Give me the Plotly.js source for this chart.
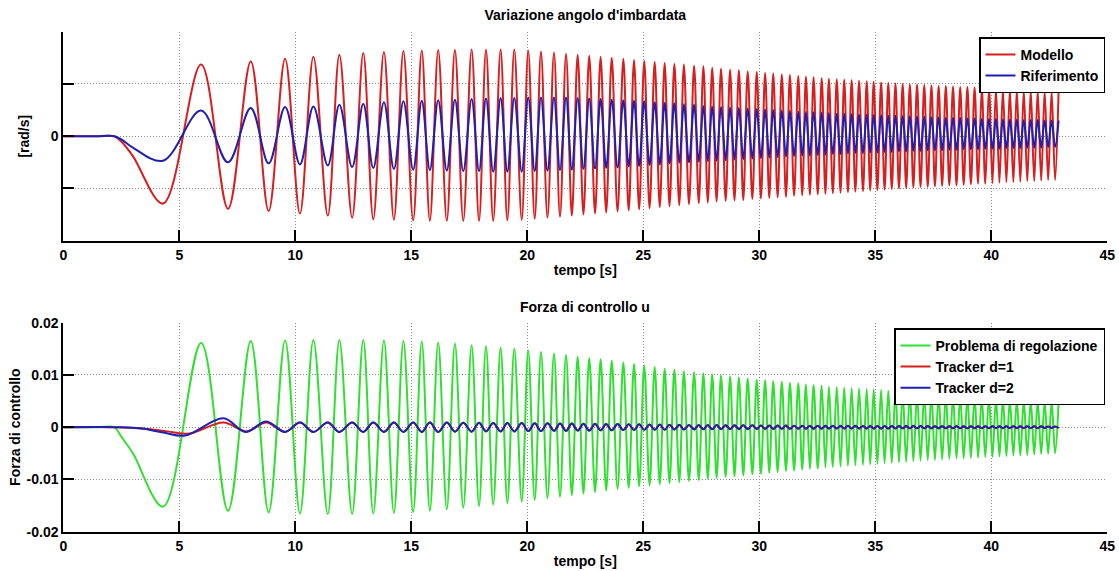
<!DOCTYPE html>
<html>
<head>
<meta charset="utf-8">
<script src="https://cdn.plot.ly/plotly-3.0.1.min.js"></script>
<style>html,body{margin:0;padding:0;background:#fff;}#chart{width:1119px;height:571px;}</style>
</head>
<body>
<div id="chart"></div>
<script>
// ---- Extremum times (s), shared by the oscillating series ----
const troughT = [
  4.3, 7.1, 8.85, 10.2, 11.4, 12.45, 13.36, 14.25, 15.08, 15.8,
  16.53, 17.24, 17.92, 18.53, 19.14, 19.76, 20.32, 20.87, 21.41, 21.92,
  22.42, 22.92, 23.4, 23.89, 24.37, 24.82, 25.27, 25.71, 26.13, 26.55,
  26.97, 27.39, 27.78, 28.16, 28.55, 28.93, 29.31, 29.7, 30.07, 30.43,
  30.79, 31.15, 31.5, 31.85, 32.18, 32.52, 32.85, 33.17, 33.5, 33.82,
  34.14, 34.47, 34.78, 35.09, 35.4, 35.71, 36.02, 36.33, 36.64, 36.95,
  37.26, 37.57, 37.88, 38.19, 38.5, 38.81, 39.12, 39.43, 39.74, 40.05,
  40.35, 40.65, 40.95, 41.25, 41.55, 41.85, 42.15, 42.45, 42.75
];
const peakT = [
  5.94, 8.08, 9.56, 10.78, 11.9, 12.93, 13.82, 14.66, 15.45, 16.16,
  16.88, 17.6, 18.22, 18.85, 19.44, 20.04, 20.59, 21.15, 21.67, 22.17,
  22.67, 23.16, 23.64, 24.14, 24.6, 25.04, 25.49, 25.92, 26.34, 26.75,
  27.19, 27.59, 27.97, 28.35, 28.74, 29.12, 29.5, 29.89, 30.25, 30.6,
  30.97, 31.32, 31.68, 32.01, 32.34, 32.69, 33.0, 33.34, 33.66, 33.98,
  34.3, 34.63, 34.93, 35.25, 35.56, 35.87, 36.18, 36.49, 36.8, 37.11,
  37.42, 37.73, 38.04, 38.35, 38.66, 38.97, 39.28, 39.59, 39.9, 40.2,
  40.5, 40.8, 41.1, 41.4, 41.7, 42.0, 42.3, 42.6, 42.9
];

// ---- Top panel: yaw rate (tick step = 1 unit) ----
const startT = [0, 1.5, 2.2, 2.5, 3.0];
const modelloStart = [0, 0, 0, -0.1, -0.38];
const riferimentoStart = [0, 0, 0, -0.06, -0.22];
const modelloPeaks = [
  1.37, 1.43, 1.48, 1.52, 1.56, 1.59, 1.61, 1.63, 1.64, 1.65,
  1.65, 1.66, 1.66, 1.66, 1.66, 1.64, 1.62, 1.6, 1.58, 1.56,
  1.54, 1.52, 1.5, 1.48, 1.46, 1.44, 1.42, 1.4, 1.38, 1.37,
  1.35, 1.34, 1.31, 1.29, 1.27, 1.26, 1.24, 1.23, 1.21, 1.2,
  1.18, 1.17, 1.15, 1.14, 1.13, 1.11, 1.1, 1.09, 1.08, 1.07,
  1.06, 1.05, 1.04, 1.03, 1.02, 1.01, 1.0, 0.99, 0.99, 0.98,
  0.97, 0.96, 0.96, 0.95, 0.94, 0.94, 0.93, 0.92, 0.92, 0.91,
  0.9, 0.9, 0.89, 0.88, 0.88, 0.87, 0.87, 0.86, 0.86
];
const modelloTroughs = [
  -1.29, -1.39, -1.43, -1.48, -1.52, -1.56, -1.59, -1.6, -1.61, -1.62,
  -1.62, -1.62, -1.62, -1.62, -1.61, -1.6, -1.58, -1.56, -1.54, -1.52,
  -1.5, -1.48, -1.46, -1.44, -1.42, -1.4, -1.38, -1.36, -1.34, -1.32,
  -1.3, -1.28, -1.27, -1.25, -1.24, -1.23, -1.22, -1.2, -1.19, -1.18,
  -1.17, -1.16, -1.14, -1.13, -1.12, -1.11, -1.1, -1.09, -1.08, -1.07,
  -1.06, -1.05, -1.04, -1.03, -1.02, -1.01, -1.0, -0.99, -0.98, -0.97,
  -0.97, -0.96, -0.95, -0.94, -0.94, -0.93, -0.92, -0.91, -0.91, -0.9,
  -0.89, -0.88, -0.88, -0.87, -0.86, -0.86, -0.85, -0.84, -0.84
];
const riferimentoPeaks = [
  0.49, 0.54, 0.56, 0.57, 0.6, 0.62, 0.65, 0.67, 0.68, 0.69,
  0.7, 0.71, 0.72, 0.73, 0.73, 0.74, 0.74, 0.74, 0.74, 0.73,
  0.72, 0.71, 0.7, 0.69, 0.68, 0.67, 0.65, 0.64, 0.63, 0.61,
  0.6, 0.58, 0.57, 0.56, 0.55, 0.54, 0.53, 0.52, 0.51, 0.5,
  0.49, 0.48, 0.47, 0.46, 0.46, 0.45, 0.44, 0.43, 0.43, 0.42,
  0.41, 0.41, 0.4, 0.4, 0.39, 0.39, 0.38, 0.38, 0.37, 0.37,
  0.36, 0.36, 0.35, 0.35, 0.35, 0.34, 0.34, 0.33, 0.33, 0.33,
  0.32, 0.32, 0.32, 0.31, 0.31, 0.31, 0.3, 0.3, 0.3
];
const riferimentoTroughs = [
  -0.47, -0.5, -0.52, -0.54, -0.56, -0.59, -0.61, -0.63, -0.64, -0.65,
  -0.66, -0.67, -0.67, -0.68, -0.68, -0.68, -0.67, -0.66, -0.65, -0.64,
  -0.63, -0.62, -0.61, -0.6, -0.58, -0.57, -0.55, -0.54, -0.52, -0.51,
  -0.5, -0.49, -0.48, -0.47, -0.46, -0.45, -0.44, -0.43, -0.42, -0.41,
  -0.4, -0.39, -0.38, -0.37, -0.37, -0.36, -0.35, -0.34, -0.34, -0.33,
  -0.32, -0.32, -0.31, -0.31, -0.3, -0.3, -0.29, -0.29, -0.28, -0.28,
  -0.27, -0.27, -0.27, -0.26, -0.26, -0.25, -0.25, -0.25, -0.24, -0.24,
  -0.24, -0.23, -0.23, -0.23, -0.22, -0.22, -0.22, -0.21, -0.21
];

// ---- Bottom panel: control force ----
const regolazioneStart = [0, 0, 0, -0.0018, -0.005];
const regolazionePeaks = [
  0.0161, 0.0165, 0.0166, 0.0167, 0.0167, 0.0167, 0.0166, 0.0165, 0.0164, 0.0162,
  0.016, 0.0157, 0.0155, 0.0152, 0.015, 0.0147, 0.0144, 0.0141, 0.0138, 0.0135,
  0.0132, 0.013, 0.0127, 0.0124, 0.0121, 0.0118, 0.0115, 0.0112, 0.011, 0.0107,
  0.0105, 0.0103, 0.0101, 0.0099, 0.0097, 0.0095, 0.0093, 0.0091, 0.009, 0.0088,
  0.0087, 0.0085, 0.0084, 0.0082, 0.0081, 0.008, 0.0078, 0.0077, 0.0076, 0.0075,
  0.0074, 0.0073, 0.0072, 0.0071, 0.007, 0.0069, 0.0068, 0.0067, 0.0066, 0.0065,
  0.0064, 0.0063, 0.0062, 0.0061, 0.006, 0.006, 0.0059, 0.0058, 0.0057, 0.0056,
  0.0055, 0.0054, 0.0053, 0.0052, 0.0051, 0.005, 0.0049, 0.0048, 0.0047
];
const regolazioneTroughs = [
  -0.0152, -0.016, -0.0163, -0.0165, -0.0166, -0.0166, -0.0165, -0.0164, -0.0162, -0.016,
  -0.0157, -0.0154, -0.0151, -0.0148, -0.0145, -0.0142, -0.0139, -0.0136, -0.0133, -0.013,
  -0.0127, -0.0124, -0.0121, -0.0118, -0.0116, -0.0113, -0.0111, -0.0109, -0.0107, -0.0105,
  -0.0103, -0.0101, -0.0099, -0.0097, -0.0095, -0.0094, -0.0092, -0.009, -0.0089, -0.0087,
  -0.0086, -0.0084, -0.0083, -0.0081, -0.008, -0.0079, -0.0077, -0.0076, -0.0075, -0.0074,
  -0.0073, -0.0072, -0.0071, -0.007, -0.0069, -0.0068, -0.0067, -0.0066, -0.0065, -0.0064,
  -0.0063, -0.0063, -0.0062, -0.0061, -0.006, -0.006, -0.0059, -0.0058, -0.0057, -0.0057,
  -0.0056, -0.0055, -0.0054, -0.0054, -0.0053, -0.0052, -0.0051, -0.0051, -0.005
];
// trackers: first transient points, then oscillation in antiphase from t = 9.56 s
const tracker1StartT = [0, 2.3, 3.5, 4.5, 5.45, 6.9, 7.9, 8.75];
const tracker1Start  = [0, 0, -0.0003, -0.0008, -0.0012, 0.0009, -0.0008, 0.0009];
const tracker2StartT = [0, 2.3, 3.3, 4.3, 5.25, 6.9, 7.85, 8.75];
const tracker2Start  = [0, 0, -0.0002, -0.001, -0.0016, 0.0017, -0.0009, 0.0011];
const trackerAmp = [
  0.0009, 0.0009, 0.0009, 0.0009, 0.0009, 0.0009, 0.0009, 0.0009, 0.00085, 0.00085,
  0.0008, 0.0008, 0.0008, 0.00075, 0.00075, 0.0007, 0.0007, 0.00065, 0.00065, 0.0006,
  0.0006, 0.00055, 0.00055, 0.0005, 0.0005, 0.00048, 0.00046, 0.00044, 0.00042, 0.0004,
  0.0004, 0.00038, 0.00037, 0.00036, 0.00035, 0.00034, 0.00033, 0.00032, 0.00031, 0.0003,
  0.00029, 0.00029, 0.00028, 0.00028, 0.00027, 0.00027, 0.00026, 0.00026, 0.00025, 0.00025,
  0.00024, 0.00024, 0.00023, 0.00023, 0.00022, 0.00022, 0.00021, 0.00021, 0.0002, 0.0002,
  0.0002, 0.00019, 0.00019, 0.00019, 0.00018, 0.00018, 0.00018, 0.00017, 0.00017, 0.00017,
  0.00016, 0.00016, 0.00016, 0.00016, 0.00015, 0.00015, 0.00015
];

const xTicks = [0, 5, 10, 15, 20, 25, 30, 35, 40, 45];
const topTicks = [-2, -1, 0, 1, 2];
const topTickText = ['', '', '0', '', ''];
const botTicks = [-0.02, -0.01, 0, 0.01, 0.02];
const botTickText = ['-0.02', '-0.01', '0', '0.01', '0.02'];

// ---- assemble series from extrema (drawn with the library's spline) ----
function series(st, sv, pv, tv) {
  const x = st.slice(), y = sv.slice();
  const n = Math.min(peakT.length, troughT.length, pv.length, tv.length);
  for (let i = 0; i < n; i++) {
    x.push(troughT[i]); y.push(tv[i]);
    x.push(peakT[i]); y.push(pv[i]);
  }
  return {x, y};
}
function trackerSeries(st, sv, amp) {
  const x = st.slice(), y = sv.slice();
  for (let k = 0; k < amp.length; k++) {
    const i = k + 2;
    if (i >= peakT.length) break;
    x.push(peakT[i]); y.push(-amp[k]);
    if (i + 1 < troughT.length) { x.push(troughT[i + 1]); y.push(amp[k]); }
  }
  return {x, y};
}

const RED = '#d81e1e', BLUE = '#2020b0', GREEN = '#30e030';
const FONT = 'Liberation Sans, Arial, Helvetica, sans-serif';

const m = series(startT, modelloStart, modelloPeaks, modelloTroughs);
const r = series(startT, riferimentoStart, riferimentoPeaks, riferimentoTroughs);
const g = series(startT, regolazioneStart, regolazionePeaks, regolazioneTroughs);
const t1 = trackerSeries(tracker1StartT, tracker1Start, trackerAmp);
const t2 = trackerSeries(tracker2StartT, tracker2Start, trackerAmp);

function tr(d, name, color, xa, ya, leg) {
  return {x: d.x, y: d.y, name: name, type: 'scatter', mode: 'lines', xaxis: xa, yaxis: ya,
    legend: leg, line: {color: color, width: 2, shape: 'spline', smoothing: 1}, hoverinfo: 'skip'};
}
const data = [
  tr(m, 'Modello', RED, 'x', 'y', 'legend'),
  tr(r, 'Riferimento', BLUE, 'x', 'y', 'legend'),
  tr(g, 'Problema di regolazione', GREEN, 'x2', 'y2', 'legend2'),
  tr(t1, 'Tracker d=1', RED, 'x2', 'y2', 'legend2'),
  tr(t2, 'Tracker d=2', BLUE, 'x2', 'y2', 'legend2')
];

const W = 1119, H = 571;
const xDom = [63.3 / W, 1107.3 / W];
const tickFont = {family: FONT, size: 14, color: '#000', weight: 'bold'};
const titleFont = {family: FONT, size: 14, color: '#000', weight: 'bold'};
function xax(anchor) {
  return {domain: xDom, anchor: anchor, range: [0, 45], tickmode: 'array', tickvals: xTicks,
    ticktext: xTicks.map(String), ticks: 'inside', ticklen: 11, tickwidth: 2, tickcolor: '#000',
    showline: true, linecolor: '#000', linewidth: 2, mirror: false, showgrid: true,
    gridcolor: '#8a8a8a', gridwidth: 1, griddash: '1px,2px', zeroline: false,
    tickfont: tickFont, automargin: false,
    title: {text: 'tempo [s]', font: titleFont, standoff: 4}};
}
function yax(anchor, dom, range, tv, tt, title, so) {
  return {domain: dom, anchor: anchor, range: range, tickmode: 'array', tickvals: tv, ticktext: tt,
    ticks: 'inside', ticklen: 11, tickwidth: 2, tickcolor: '#000',
    showline: true, linecolor: '#000', linewidth: 2, mirror: false, showgrid: true,
    gridcolor: '#8a8a8a', gridwidth: 1, griddash: '1px,2px', zeroline: false,
    tickfont: tickFont, automargin: false,
    title: {text: title, font: titleFont, standoff: so}};
}

const layout = {
  width: W, height: H, autosize: false,
  margin: {l: 0, r: 0, t: 0, b: 0, pad: 0},
  paper_bgcolor: '#fff', plot_bgcolor: '#fff',
  font: {family: FONT, size: 14, color: '#000'},
  title: {text: "Variazione angolo d'imbardata", font: titleFont,
    x: 585.3 / W, xanchor: 'center', y: 1 - 15 / H, yanchor: 'middle'},
  xaxis: xax('y'),
  yaxis: yax('x', [1 - 240.7 / H, 1 - 31.7 / H], [-2, 2], topTicks, topTickText, '[rad/s]', 18),
  xaxis2: xax('y2'),
  yaxis2: yax('x2', [1 - 531.7 / H, 1 - 322.7 / H], [-0.02, 0.02], botTicks, botTickText, 'Forza di controllo', 3),
  annotations: [{text: 'Forza di controllo u', xref: 'paper', yref: 'paper', showarrow: false,
    x: 585.3 / W, y: 1 - 306.7 / H, xanchor: 'center', yanchor: 'middle', font: titleFont}],
  legend: {x: 1105 / W, xanchor: 'right', y: 1 - 37.3 / H, yanchor: 'top',
    bgcolor: '#fff', bordercolor: '#000', borderwidth: 1.5,
    font: {family: FONT, size: 14, color: '#000', weight: 'bold'}},
  legend2: {x: 1105 / W, xanchor: 'right', y: 1 - 328.3 / H, yanchor: 'top',
    bgcolor: '#fff', bordercolor: '#000', borderwidth: 1.5,
    font: {family: FONT, size: 14, color: '#000', weight: 'bold'}},
  showlegend: true
};

Plotly.newPlot('chart', data, layout, {staticPlot: true, displayModeBar: false});
</script>
</body>
</html>
